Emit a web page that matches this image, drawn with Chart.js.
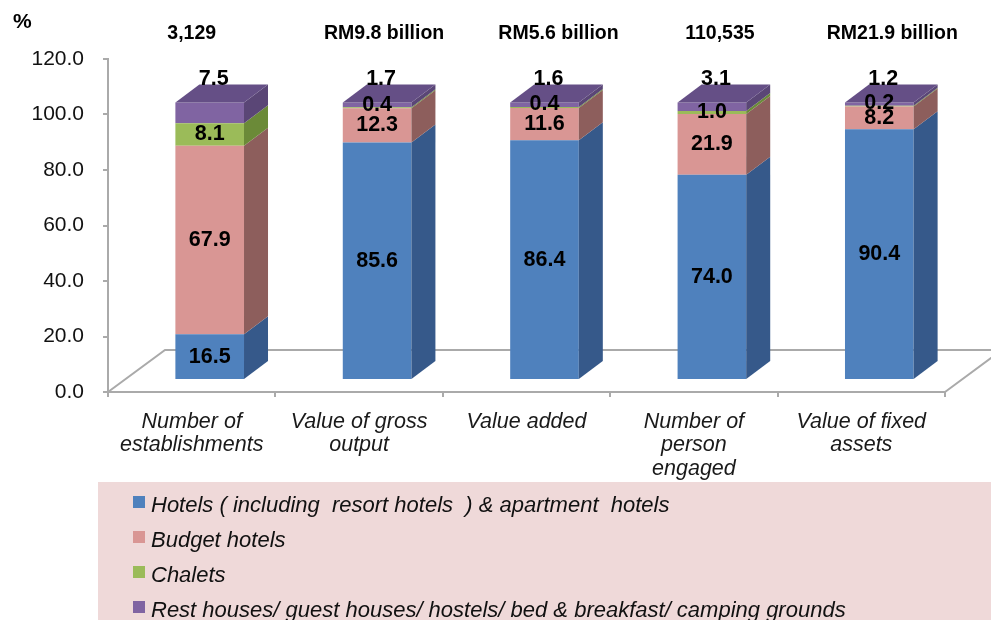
<!DOCTYPE html>
<html>
<head>
<meta charset="utf-8">
<script src="https://cdn.jsdelivr.net/npm/chart.js@4.4.1/dist/chart.umd.min.js"></script>
<style>
  body { margin: 0; background: #fff; }
  #wrap { width: 991px; height: 620px; }
</style>
</head>
<body>
<div id="wrap"><canvas id="chart" width="991" height="620"></canvas></div>
<script>
// data
const categories = [
  ['Number of', 'establishments'],
  ['Value of gross', 'output'],
  ['Value added'],
  ['Number of', 'person', 'engaged'],
  ['Value of fixed', 'assets']
];
const totals = ['3,129', 'RM9.8 billion', 'RM5.6 billion', '110,535', 'RM21.9 billion'];
const seriesNames = [
  'Hotels ( including  resort hotels  ) & apartment  hotels',
  'Budget hotels',
  'Chalets',
  'Rest houses/ guest houses/ hostels/ bed & breakfast/ camping grounds'
];
const hotels = [16.5, 85.6, 86.4, 74.0, 90.4];
const budgetHotels = [67.9, 12.3, 11.6, 21.9, 8.2];
const chalets = [8.1, 0.4, 0.4, 1.0, 0.2];
const restHouses = [7.5, 1.7, 1.6, 3.1, 1.2];
const yTicks = [0, 20, 40, 60, 80, 100, 120];

// styling
const frontColors = ['#4f81bd', '#d99694', '#9bbb59', '#8064a2'];
const sideColors = ['#36598a', '#8d5e5c', '#6b8a38', '#5a4676'];
const topColor = '#654f86';
const DEPTH = { x: 24, y: -18 };   // bar depth
const FLOOR = { x: 57, y: -42 };   // floor depth
const SHIFT = { x: 18, y: -12 };   // bars sit a bit back on the floor
const totalNudge = [0, 25, 32, 26, 31];
const FONT = 'Arial, "Liberation Sans", sans-serif';

Chart.defaults.font.family = FONT;

function poly(ctx, pts, color) {
  ctx.beginPath();
  ctx.moveTo(pts[0][0], pts[0][1]);
  for (let i = 1; i < pts.length; i++) ctx.lineTo(pts[i][0], pts[i][1]);
  ctx.closePath();
  ctx.fillStyle = color;
  ctx.fill();
}

const bars3d = {
  id: 'bars3d',
  beforeDatasetsDraw(chart) {
    const { ctx, chartArea: a } = chart;
    // floor outline
    ctx.save();
    ctx.strokeStyle = '#aaaaaa';
    ctx.lineWidth = 2;
    ctx.beginPath();
    ctx.moveTo(a.left, a.bottom);
    ctx.lineTo(a.left + FLOOR.x, a.bottom + FLOOR.y);
    ctx.lineTo(a.right + FLOOR.x, a.bottom + FLOOR.y);
    ctx.moveTo(a.right, a.bottom);
    ctx.lineTo(a.right + FLOOR.x, a.bottom + FLOOR.y);
    ctx.stroke();
    ctx.restore();
    ctx.save();
    ctx.translate(SHIFT.x, SHIFT.y);
  },
  afterDatasetsDraw(chart) {
    const { ctx } = chart;
    const n = chart.data.datasets.length;
    for (let i = 0; i < n; i++) {
      chart.getDatasetMeta(i).data.forEach((bar) => {
        const r = bar.x + bar.width / 2;
        const l = bar.x - bar.width / 2;
        poly(ctx, [[r, bar.y], [r + DEPTH.x, bar.y + DEPTH.y], [r + DEPTH.x, bar.base + DEPTH.y], [r, bar.base]], sideColors[i]);
        if (i === n - 1) {
          poly(ctx, [[l, bar.y], [l + DEPTH.x, bar.y + DEPTH.y], [r + DEPTH.x, bar.y + DEPTH.y], [r, bar.y]], topColor);
        }
      });
    }
    // value labels
    ctx.fillStyle = '#000';
    ctx.font = 'bold 21.5px ' + FONT;
    ctx.textAlign = 'center';
    ctx.textBaseline = 'middle';
    for (let i = 0; i < n; i++) {
      const vals = chart.data.datasets[i].data;
      chart.getDatasetMeta(i).data.forEach((bar, j) => {
        const txt = vals[j].toFixed(1);
        if (i === n - 1) {
          ctx.fillText(txt, bar.x + 4, bar.y - 23);
        } else {
          const off = vals[j] < 1 ? -3 : 0;
          ctx.fillText(txt, bar.x, (bar.y + bar.base) / 2 + off);
        }
      });
    }
    ctx.restore();
  },
  afterDraw(chart) {
    const { ctx } = chart;
    const xs = chart.scales.x;
    ctx.save();
    ctx.fillStyle = '#000';
    ctx.font = 'bold 21px ' + FONT;
    ctx.textAlign = 'left';
    ctx.textBaseline = 'middle';
    ctx.fillText('%', 13, 22);

    ctx.font = 'bold 19.5px ' + FONT;
    ctx.textAlign = 'center';
    totals.forEach((t, i) => {
      ctx.fillText(t, xs.getPixelForValue(i) + totalNudge[i], 34);
    });

    // legend box
    ctx.fillStyle = '#efd9d9';
    ctx.fillRect(98, 482, 893, 138);
    ctx.font = 'italic 22px ' + FONT;
    ctx.textAlign = 'left';
    ctx.textBaseline = 'alphabetic';
    chart.data.datasets.forEach((ds, i) => {
      ctx.fillStyle = ds.backgroundColor;
      ctx.fillRect(133, 496 + 35 * i, 12, 12);
      ctx.fillStyle = '#111';
      ctx.fillText(ds.label, 151, 512 + 35 * i);
    });
    ctx.restore();
  }
};

const seriesData = [hotels, budgetHotels, chalets, restHouses];

new Chart(document.getElementById('chart'), {
  type: 'bar',
  data: {
    labels: categories,
    datasets: seriesData.map((d, i) => ({
      label: seriesNames[i],
      data: d,
      backgroundColor: frontColors[i],
      borderWidth: 0,
      barPercentage: 0.41,
      categoryPercentage: 1
    }))
  },
  options: {
    responsive: false,
    animation: false,
    layout: { padding: { top: 59, right: 46, bottom: 138, left: 0 } },
    plugins: {
      legend: { display: false },
      tooltip: { enabled: false }
    },
    scales: {
      x: {
        stacked: true,
        grid: { display: true, drawOnChartArea: false, tickLength: 5, color: '#aaaaaa', lineWidth: 2 },
        border: { color: '#aaaaaa', width: 2 },
        ticks: {
          color: '#1a1a1a',
          font: { size: 21.5, style: 'italic', lineHeight: 1.09 },
          maxRotation: 0,
          autoSkip: false,
          padding: 13
        },
        afterFit(s) { s.height = 90; }
      },
      y: {
        stacked: true,
        min: 0,
        max: 120,
        grid: { display: true, drawOnChartArea: false, tickLength: 5, color: '#aaaaaa', lineWidth: 2 },
        border: { color: '#aaaaaa', width: 2 },
        afterBuildTicks(s) { s.ticks = yTicks.map((v) => ({ value: v })); },
        ticks: {
          color: '#111',
          font: { size: 21 },
          padding: 19,
          callback: (v) => Number(v).toFixed(1)
        },
        afterFit(s) { s.width = 108; }
      }
    }
  },
  plugins: [bars3d]
});
</script>
</body>
</html>
